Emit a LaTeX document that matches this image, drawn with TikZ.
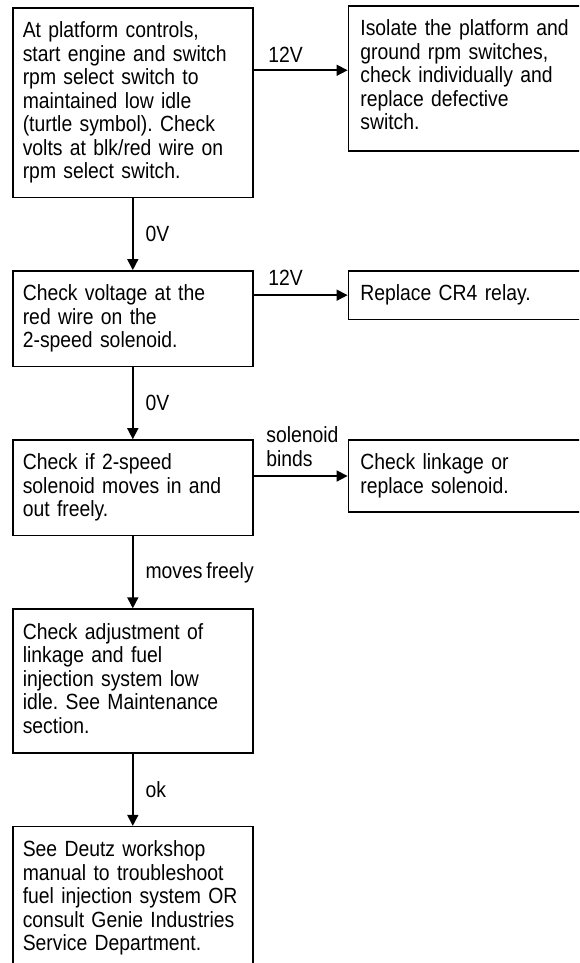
\documentclass[tikz,border=0pt]{standalone}
\usepackage{fontspec}
\setmainfont[FakeStretch=0.88,WordSpace=0.7]{Liberation Sans}
\frenchspacing
\usetikzlibrary{arrows.meta,positioning}

\begin{document}
\begin{tikzpicture}[
  x=1pt, y=-1pt,
  node distance=72pt and 94pt,
  box/.style={draw=black,line width=1.6pt,inner xsep=10pt,inner ysep=14pt,
              text width=220pt,align=left,
              font=\fontsize{22pt}{23.5pt}\selectfont},
  wide/.style={text width=250pt,inner xsep=12pt},
  arr/.style={-{Triangle[length=11pt,width=11pt]},line width=1.6pt},
  lbl/.style={font=\fontsize{22pt}{23.5pt}\selectfont,inner sep=0pt,align=left}
]
  \useasboundingbox (0,0) rectangle (579,963);
  \clip (0,0) rectangle (579,963);

  % main column
  \node[box,anchor=north west] (b1) at (12,7)
    {At platform controls,\\start engine and switch\\rpm select switch to\\maintained low idle\\(turtle symbol). Check\\volts at blk/red wire on\\rpm select switch.};
  \node[box,below=of b1] (b2)
    {Check voltage at the\\red wire on the\\2-speed solenoid.};
  \node[box,below=of b2] (b3)
    {Check if 2-speed\\solenoid moves in and\\out freely.};
  \node[box,below=of b3,text depth=100pt] (b4)
    {Check adjustment of\\linkage and fuel\\injection system low\\idle. See Maintenance\\section.};
  \node[box,below=of b4] (b5)
    {See Deutz workshop\\manual to troubleshoot\\fuel injection system OR\\consult Genie Industries\\Service Department.};

  % right column
  \node[box,wide,right=of b1.north east,anchor=north west,yshift=2pt,text depth=101pt] (r1)
    {Isolate the platform and\\ground rpm switches,\\check individually and\\replace defective\\switch.};
  \node[box,wide,right=of b2.north east,anchor=north west] (r2)
    {Replace CR4 relay.};
  \node[box,wide,right=of b3.north east,anchor=north west] (r3)
    {Check linkage or\\replace solenoid.};

  \draw[arr] ([yshift=8pt]r1.west -| b1.east) -- ([yshift=8pt]r1.west)
    node[lbl,pos=0,above right=7pt and 14pt] {12V};
  \draw[arr] (b2.east |- r2.west) -- (r2.west)
    node[lbl,pos=0,above right=9pt and 14pt] {12V};
  \draw[arr] (b3.east |- r3.west) -- (r3.west)
    node[lbl,pos=0,above right=9pt and 12pt] {solenoid\\binds};

  \draw[arr] (b1) -- (b2) node[lbl,midway,right=12pt] {0V};
  \draw[arr] (b2) -- (b3) node[lbl,midway,right=12pt] {0V};
  \draw[arr] (b3) -- (b4) node[lbl,midway,right=12pt] {moves freely};
  \draw[arr] (b4) -- (b5) node[lbl,midway,right=12pt] {ok};
\end{tikzpicture}
\end{document}
